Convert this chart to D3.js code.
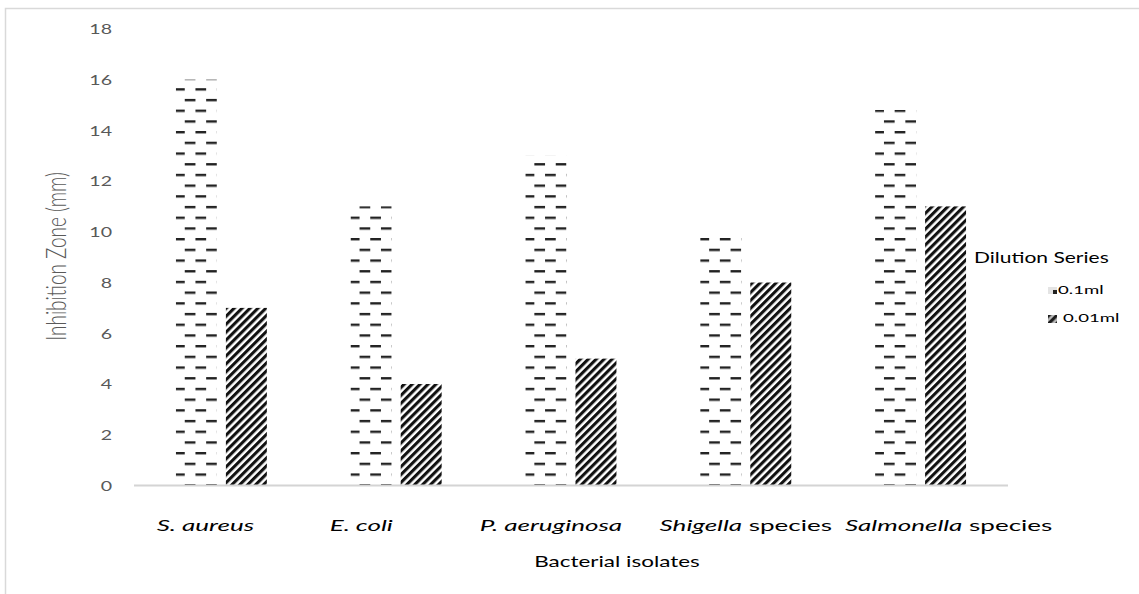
<!DOCTYPE html>
<html>
<head>
<meta charset="utf-8">
<script src="https://cdn.jsdelivr.net/npm/d3@7"></script>
<style>
  html, body { margin: 0; padding: 0; background: #fff; }
  svg { display: block; }
  text { font-family: Lato, "Open Sans", sans-serif; }
</style>
</head>
<body>
<svg id="chart" width="1139" height="594"></svg>
<script>
// Inhibition zones (mm) of bacterial isolates for two dilutions
const isolateItalic = ["S. aureus", "E. coli", "P. aeruginosa", "Shigella", "Salmonella"];
const isolatePlain  = ["", "", "", " species", " species"];
const seriesNames   = ["0.1ml", "0.01ml"];
const zone01ml      = [16, 11, 13, 9.8, 14.8];
const zone001ml     = [7, 4, 5, 8, 11];
const yTicks        = [0, 2, 4, 6, 8, 10, 12, 14, 16, 18];

const rows = isolateItalic.map((name, i) => ({
  name,
  plain: isolatePlain[i],
  values: [zone01ml[i], zone001ml[i]]
}));

const W = 1139, H = 594;
const SX = 1.45; // horizontal glyph stretch used for the text
const svg = d3.select("#chart");

// ---- patterns ----
const defs = svg.append("defs");

const dash = defs.append("pattern")
  .attr("id", "dashes")
  .attr("patternUnits", "userSpaceOnUse")
  .attr("width", 21.4).attr("height", 21.4)
  .attr("patternTransform", "translate(180,77.5)");
dash.append("rect").attr("width", 21.4).attr("height", 21.4).attr("fill", "#fff");
dash.append("rect").attr("x", 0).attr("y", 0).attr("width", 10.7).attr("height", 2.4).attr("fill", "#222");
dash.append("rect").attr("x", 10.7).attr("y", 10.7).attr("width", 10.7).attr("height", 2.4).attr("fill", "#222");

const stripe = defs.append("pattern")
  .attr("id", "stripes")
  .attr("patternUnits", "userSpaceOnUse")
  .attr("width", 5.6).attr("height", 10)
  .attr("patternTransform", "rotate(45)");
stripe.append("rect").attr("width", 5.6).attr("height", 10).attr("fill", "#fff");
stripe.append("rect").attr("width", 3.1).attr("height", 10).attr("fill", "#111");

const fills = ["url(#dashes)", "url(#stripes)"];

// ---- frame ----
svg.append("rect")
  .attr("x", 5.5).attr("y", 8.5)
  .attr("width", W + 50).attr("height", H + 50)
  .attr("fill", "none").attr("stroke", "#d9d9d9").attr("stroke-width", 1.5);

// ---- scales ----
const x0 = d3.scaleBand()
  .domain(rows.map(d => d.name))
  .range([134, 1008])
  .paddingInner(0.48)
  .paddingOuter(0.24);

const x1 = d3.scaleBand()
  .domain(seriesNames)
  .range([0, x0.bandwidth()])
  .paddingInner(0.18);

const y = d3.scaleLinear().domain([0, 18]).range([485.5, 28.8]);

// ---- y tick labels ----
const yAxis = d3.axisLeft(y).tickValues(yTicks).tickSize(0).tickPadding(0);
const gy = svg.append("g").attr("transform", "translate(112,0)").call(yAxis);
gy.select(".domain").remove();
gy.selectAll(".tick text")
  .attr("x", 0)
  .attr("dy", "0.36em")
  .attr("transform", `scale(${SX},1)`)
  .attr("fill", "#595959")
  .style("font-family", "Lato, sans-serif")
  .style("font-size", "13.5px");

// ---- bars ----
const groups = svg.append("g").selectAll("g")
  .data(rows).join("g")
  .attr("transform", d => `translate(${x0(d.name)},0)`);

groups.selectAll("rect")
  .data(d => d.values.map((v, j) => ({ key: seriesNames[j], v, j })))
  .join("rect")
  .attr("x", d => x1(d.key))
  .attr("width", x1.bandwidth())
  .attr("y", d => y(d.v))
  .attr("height", d => y(0) - y(d.v))
  .attr("fill", d => fills[d.j]);

// ---- x axis line ----
svg.append("line")
  .attr("x1", 134).attr("x2", 1008)
  .attr("y1", y(0)).attr("y2", y(0))
  .attr("stroke", "#d4d4d4").attr("stroke-width", 2);

// ---- category labels (typed as one line under the axis, so spacing is uneven) ----
const labelShift = [-16, -35, -20, 0, 28];
const catLabels = svg.append("g").selectAll("text")
  .data(rows).join("text")
  .attr("text-anchor", "middle")
  .attr("transform", (d, i) =>
    `translate(${x0(d.name) + x0.bandwidth() / 2 + labelShift[i]},531) scale(1.68,1)`)
  .attr("fill", "#000")
  .style("font-size", "15.5px");
catLabels.append("tspan").style("font-style", "italic").text(d => d.name);
catLabels.append("tspan").text(d => d.plain);

// ---- axis titles ----
svg.append("text")
  .attr("text-anchor", "middle")
  .attr("transform", `translate(617,567) scale(${SX},1)`)
  .style("font-size", "15.5px")
  .attr("fill", "#000")
  .text("Bacterial isolates");

svg.append("text")
  .attr("text-anchor", "middle")
  .attr("transform", `translate(66,256.5) scale(${SX},1) rotate(-90)`)
  .style("font-size", "19px")
  .style("font-weight", 300)
  .attr("fill", "#595959")
  .text("Inhibition Zone (mm)");

// ---- legend ----
const legend = svg.append("g");
legend.append("text")
  .attr("transform", `translate(974,262.5) scale(${SX},1)`)
  .style("font-size", "14.5px")
  .attr("fill", "#000")
  .text("Dilution Series");

// swatches
legend.append("rect").attr("x", 1048).attr("y", 287).attr("width", 9).attr("height", 7).attr("fill", "#e4e4e4");
legend.append("rect").attr("x", 1053).attr("y", 290).attr("width", 4).attr("height", 4).attr("fill", "#222");
legend.append("rect").attr("x", 1048).attr("y", 315).attr("width", 9).attr("height", 8).attr("fill", "url(#stripes)");
legend.append("rect").attr("x", 1048).attr("y", 315).attr("width", 9).attr("height", 8).attr("fill", "#333").attr("opacity", 0.35);

const legendRows = [
  { name: seriesNames[0], x: 1058, y: 293.5 },
  { name: seriesNames[1], x: 1063, y: 322 }
];
legend.selectAll("text.item")
  .data(legendRows).join("text")
  .attr("class", "item")
  .attr("transform", d => `translate(${d.x},${d.y}) scale(1.55,1)`)
  .style("font-size", "12px")
  .attr("fill", "#000")
  .text(d => d.name);
</script>
</body>
</html>
